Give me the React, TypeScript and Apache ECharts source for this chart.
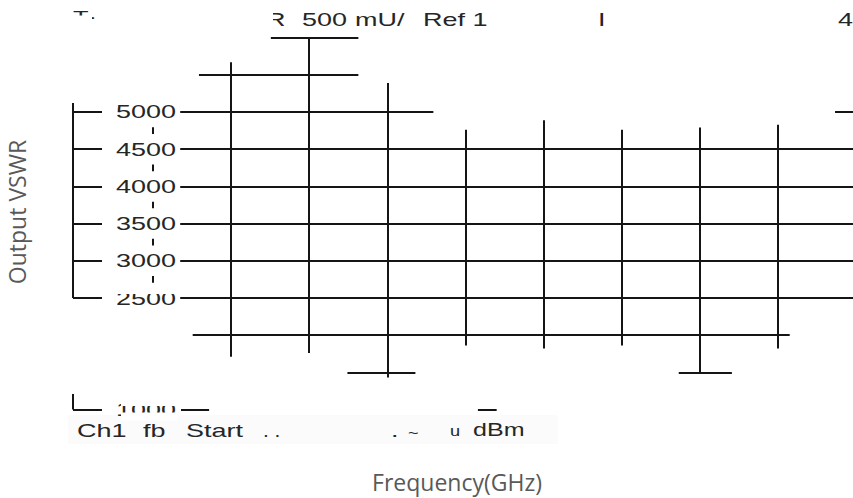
import React, { useEffect, useRef } from "react";
import * as echarts from "echarts";

// Axis extents (value space)
const X_MIN = -1.956;
const X_MAX = 8.96;
const Y_MIN = -188;
const Y_MAX = 6505;

// Tick labels on the instrument scale
const tickLevels = [5000, 4500, 4000, 3500, 3000, 2500];
const tickLabels = ["5000", "4500", "4000", "3500", "3000", "2500"];
const lowLevel = 1000;
const lowLabel = "1000";
const minorLevels = [4750, 4250, 3750, 3250, 2750];

// Vertical traces (column position, top value, bottom value)
const columns = [1, 2, 3, 4, 5, 6, 7, 8];
const colTops = [5670, 6000, 5390, 4760, 4890, 4760, 4790, 4830];
const colBottoms = [1710, 1760, 1430, 1860, 1820, 1860, 1500, 1820];

// Horizontal traces (level, start column, end column)
const hLevels = [6000, 5500, 5000, 5000, 4500, 4000, 3500, 3000, 2500, 2000, 1500, 1500, 1000, 1000];
const hStarts = [1.51, 0.59, 0.35, 8.73, 0.35, 0.35, 0.35, 0.35, 0.35, 0.51, 2.49, 6.73, 0.36, 4.16];
const hEnds = [2.63, 2.63, 3.59, 8.96, 8.96, 8.96, 8.96, 8.96, 8.96, 8.15, 3.36, 7.41, 0.72, 4.4];

// Scale frame
const AXIS_U = -1.022;
const TICK_END_U = -0.651;
const AXIS_TOP = 5121;
const AXIS_BOTTOM = 2500;
const CORNER_TOP = 1210;
const MINOR_U = 0;
const MINOR_HALF = 45;
const LABEL_RIGHT_U = 0.296;

const INK = "#151515";
const LCD_FONT = '"Liberation Sans", Arial, sans-serif';
const TITLE_FONT = '"Open Sans", sans-serif';
const SX = 1.42;

export default function App() {
  const ref = useRef<HTMLDivElement>(null);

  useEffect(() => {
    if (!ref.current) return;
    const chart = echarts.init(ref.current, undefined, { renderer: "svg" });

    const segs: { coords: number[][] }[] = [];
    hLevels.forEach((lv, i) => segs.push({ coords: [[hStarts[i], lv], [hEnds[i], lv]] }));
    columns.forEach((c, i) => segs.push({ coords: [[c, colTops[i]], [c, colBottoms[i]]] }));

    const frame: { coords: number[][] }[] = [];
    frame.push({ coords: [[AXIS_U, AXIS_TOP], [AXIS_U, AXIS_BOTTOM]] });
    frame.push({ coords: [[AXIS_U, CORNER_TOP], [AXIS_U, lowLevel]] });
    [...tickLevels, lowLevel].forEach((lv) => frame.push({ coords: [[AXIS_U, lv], [TICK_END_U, lv]] }));
    minorLevels.forEach((lv) => frame.push({ coords: [[MINOR_U, lv + MINOR_HALF], [MINOR_U, lv - MINOR_HALF]] }));

    chart.setOption({
      animation: false,
      backgroundColor: "#ffffff",
      grid: { left: 0, right: 0, top: 0, bottom: 0, containLabel: false },
      xAxis: { type: "value", min: X_MIN, max: X_MAX, show: false },
      yAxis: { type: "value", min: Y_MIN, max: Y_MAX, show: false },
      series: [
        {
          type: "lines",
          coordinateSystem: "cartesian2d",
          silent: true,
          lineStyle: { color: INK, width: 2, opacity: 1 },
          data: segs,
          z: 3,
        },
        {
          type: "lines",
          coordinateSystem: "cartesian2d",
          silent: true,
          lineStyle: { color: INK, width: 2, opacity: 1 },
          data: frame,
          z: 3,
        },
      ],
    });

    const lcd = (text: string, x: number, y: number, align = "left", size = 19, sx = SX) => ({
      type: "text",
      x,
      y,
      scaleX: sx,
      z: 10,
      silent: true,
      style: {
        text,
        fill: "#262626",
        fontSize: size,
        fontFamily: LCD_FONT,
        align,
        verticalAlign: "middle",
      },
    });
    const mask = (x: number, y: number, w: number, h: number) => ({
      type: "rect",
      shape: { x, y, width: w, height: h },
      style: { fill: "#ffffff" },
      z: 20,
      silent: true,
    });

    const graphics: any[] = [];
    // very faint background band behind status line
    graphics.push({ type: "rect", shape: { x: 68, y: 415, width: 490, height: 29 }, style: { fill: "#fbfbfb" }, z: 1, silent: true });

    tickLevels.forEach((lv, i) => {
      const p = chart.convertToPixel({ xAxisIndex: 0, yAxisIndex: 0 }, [LABEL_RIGHT_U, lv]) as number[];
      graphics.push(lcd(tickLabels[i], p[0], p[1], "right"));
    });
    const pl = chart.convertToPixel({ xAxisIndex: 0, yAxisIndex: 0 }, [LABEL_RIGHT_U, lowLevel]) as number[];
    graphics.push(lcd(lowLabel, pl[0], pl[1], "right"));

    // header
    graphics.push(lcd("T·", 73, 17, "left", 17, 1.5));
    graphics.push(lcd("R", 266, 19.5));
    graphics.push(lcd("500", 302, 19.5));
    graphics.push(lcd("mU/", 355, 19.5));
    graphics.push(lcd("Ref 1", 423, 19.5));
    graphics.push(lcd("I", 598, 19.5));
    graphics.push(lcd("4", 838, 19.5));
    // status line
    graphics.push(lcd("Ch1", 77, 430));
    graphics.push(lcd("fb", 143, 430));
    graphics.push(lcd("Start", 186, 430));
    graphics.push(lcd(". .", 263, 430, "left", 19, 1.1));
    graphics.push(lcd(".", 391, 430));
    graphics.push(lcd("~", 408, 433, "left", 15, 1.2));
    graphics.push(lcd("u", 450, 431, "left", 14, 1.3));
    graphics.push(lcd("dBm", 473, 430, "left", 19, 1.32));

    // cropping masks (partial glyphs in the capture)
    graphics.push(mask(258, 6, 15, 28));
    graphics.push(mask(70, 15.5, 22, 12));
    graphics.push(mask(106, 284, 72, 10));
    graphics.push(mask(121, 396, 57, 10));
    graphics.push(mask(121, 412.5, 57, 8));

    // axis titles
    graphics.push({
      type: "text",
      x: 17,
      y: 212,
      rotation: Math.PI / 2,
      z: 10,
      silent: true,
      style: { text: "Output VSWR", fill: "#595959", fontSize: 23, fontFamily: TITLE_FONT, align: "center", verticalAlign: "middle" },
    });
    graphics.push({
      type: "text",
      x: 457,
      y: 482,
      z: 10,
      silent: true,
      style: { text: "Frequency(GHz)", fill: "#595959", fontSize: 23, fontFamily: TITLE_FONT, align: "center", verticalAlign: "middle" },
    });

    chart.setOption({ graphic: graphics });

    return () => chart.dispose();
  }, []);

  return (
    <div
      ref={ref}
      style={{ position: "fixed", left: 0, top: 0, width: 853, height: 498, background: "#fff" }}
    />
  );
}
